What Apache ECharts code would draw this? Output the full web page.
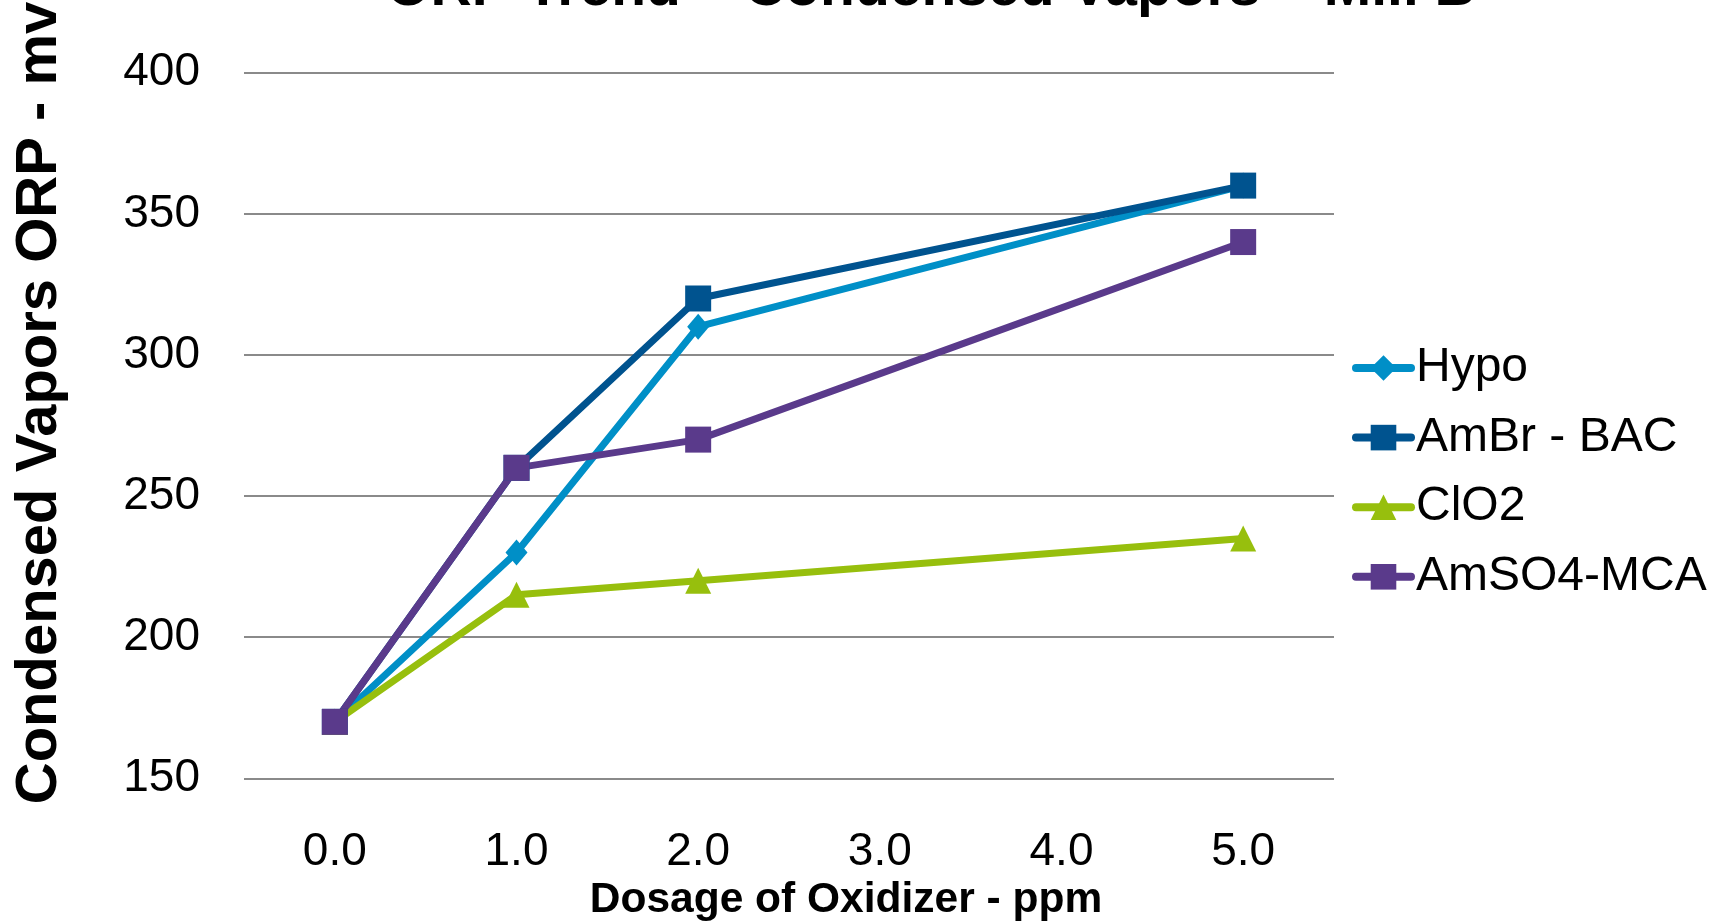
<!DOCTYPE html>
<html>
<head>
<meta charset="utf-8">
<script src="https://cdn.jsdelivr.net/npm/echarts@6/dist/echarts.min.js"></script>
<style>
html,body{margin:0;padding:0;background:#fff;}
#chart{width:1722px;height:922px;}
</style>
</head>
<body>
<div id="chart"></div>
<script>
const categories = ['0.0', '1.0', '2.0', '3.0', '4.0', '5.0'];
const hypo  = [170, 230, 310, null, null, 360];
const ambr  = [170, 260, 320, null, null, 360];
const clo2  = [170, 215, 220, null, null, 235];
const amso4 = [170, 260, 270, null, null, 340];
const seriesNames = ['Hypo', 'AmBr - BAC', 'ClO2', 'AmSO4-MCA'];
const titleText = 'ORP Trend \u2013 Condensed Vapors \u2013 Mill B';
const yTitle = 'Condensed Vapors ORP - mv';
const xTitle = 'Dosage of Oxidizer - ppm';

const FONT = "'Liberation Sans', Arial, sans-serif";
const chart = echarts.init(document.getElementById('chart'));

function mk(name, data, color, symbol, size) {
  return {
    name: name, type: 'line', data: data, connectNulls: true,
    symbol: symbol, symbolSize: size,
    lineStyle: { color: color, width: 7, cap: 'round', join: 'round' },
    itemStyle: { color: color },
    emphasis: { disabled: true },
    animation: false
  };
}

chart.setOption({
  animation: false,
  grid: { left: 244, right: 388, top: 72.7, bottom: 143.7, containLabel: false },
  legend: {
    orient: 'vertical', left: 1347, top: 339,
    itemWidth: 55, itemHeight: 32, itemGap: 21.6,
    lineStyle: { width: 8, cap: 'round' },
    textStyle: { fontFamily: FONT, fontSize: 48, color: '#000', lineHeight: 46 },
    data: seriesNames
  },
  graphic: [
    { type: 'text', x: 931, y: -11, style: { text: titleText, font: "bold 57px " + FONT, fill: '#000', textAlign: 'center', textVerticalAlign: 'middle' } },
    { type: 'text', x: 40, y: 403, rotation: Math.PI / 2, style: { text: yTitle, font: "bold 58px " + FONT, fill: '#000', textAlign: 'center', textVerticalAlign: 'middle' } },
    { type: 'text', x: 846, y: 900, style: { text: xTitle, font: "bold 42.5px " + FONT, fill: '#000', textAlign: 'center', textVerticalAlign: 'middle' } }
  ],
  xAxis: {
    type: 'category', data: categories, boundaryGap: true,
    axisLine: { show: false }, axisTick: { show: false },
    axisLabel: { fontFamily: FONT, fontSize: 46, color: '#000', margin: 51 },
    splitLine: { show: false }
  },
  yAxis: {
    type: 'value', min: 150, max: 400, interval: 50,
    axisLine: { show: false }, axisTick: { show: false },
    axisLabel: { fontFamily: FONT, fontSize: 46, color: '#000', margin: 44 },
    splitLine: { show: true, lineStyle: { color: '#8a8a8a', width: 2 } }
  },
  series: [
    mk(seriesNames[0], hypo, '#008FC7', 'diamond', [22, 26]),
    mk(seriesNames[1], ambr, '#00538F', 'rect', 26),
    mk(seriesNames[2], clo2, '#97BF0D', 'triangle', 26),
    mk(seriesNames[3], amso4, '#5A3A8B', 'rect', 26)
  ]
});
</script>
</body>
</html>
